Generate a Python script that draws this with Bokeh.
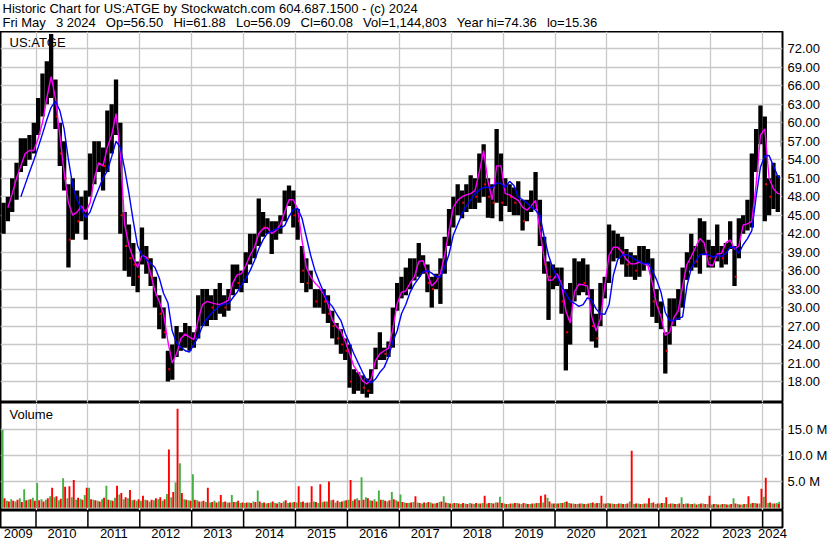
import numpy as np
import pandas as pd
from bokeh.plotting import figure
from bokeh.layouts import column
from bokeh.models import (Range1d, LinearAxis, FixedTicker, PrintfTickFormatter,
                          CustomJSTickFormatter, ColumnDataSource, Label)
from bokeh.core.properties import value
from bokeh.embed import file_html
from bokeh.resources import INLINE

# ---------------- texts ----------------
GAP = " \u2002"   # the header separates its fields with wide gaps
HEADER_1 = "Historic Chart for US:ATGE by Stockwatch.com 604.687.1500 - (c) 2024"
HEADER_2 = GAP.join(["Fri May", "3 2024", "Op=56.50", "Hi=61.88", "Lo=56.09", "Cl=60.08",
                     "Vol=1,144,803", "Year hi=74.36", "lo=15.36"])
SYMBOL = "US:ATGE"
VOLUME_TITLE = "Volume"

# ---------------- data (monthly, May 2009 .. Apr 2024, then May 3 2024) ----------------
FIRST_MONTH = "2009-05"
LAST_MONTH = "2024-04"
LAST_DAY = "2024-05-03"

HI = [47, 48, 51, 53.5, 57.5, 57.5, 58, 60,
      64, 68, 70, 74.4, 67, 60, 57, 50, 51, 49, 48, 49,
      55, 57, 57, 56, 62, 63, 67, 60, 45.5, 43.5, 40.5, 37.5,
      43, 40, 38, 35, 32, 30, 23, 24, 27, 26, 27.5, 27,
      26, 32, 33, 33, 32, 33, 34, 32, 33, 37, 37, 36,
      39, 42, 42, 47.7, 45.5, 44.5, 44, 44, 45, 49, 49.8, 49,
      46, 40, 38, 36, 33, 33, 33, 32, 29.5, 27.5, 26.5, 25,
      24, 20, 19.5, 19, 18.5, 20, 23.5, 26, 23.5, 24.5, 30, 34,
      35, 36.5, 38, 38, 40.5, 38.5, 37, 35, 35.5, 38, 41.5, 46,
      48, 50, 49, 50, 51.5, 51, 55, 56.5, 51, 50, 59, 55,
      51, 50, 49.5, 50.5, 47.5, 47.5, 49, 52, 47.5, 41.5, 37.5, 37,
      36.5, 36.5, 33, 34, 38, 37.5, 38, 37, 33, 29, 34, 35,
      43.5, 42.5, 42, 41.5, 39.5, 39, 38.5, 40, 40, 39.5, 38, 33,
      31, 26, 31.5, 31.5, 33, 36.5, 39, 42, 40, 44.5, 44, 41,
      40, 43.5, 40, 40.5, 44, 40, 44.5, 45, 47.5, 55, 59, 62.8,
      61, 51, 53.5, 51.5, 61.88]

LO = [42, 44, 45.5, 47.5, 52, 53, 54, 55,
      58, 61, 63, 64, 59, 53, 49, 36.5, 41, 42, 44, 41,
      48, 50, 52, 49, 52, 55, 58, 42, 36, 35, 33.5, 32.5,
      37, 35.5, 33.5, 30, 26.5, 25, 18, 18.3, 22, 23, 23.5, 23,
      23.5, 25, 27, 27, 28, 28, 29, 28.5, 29.5, 32, 33, 32.5,
      34, 37, 38, 40, 41.5, 42, 38.7, 41, 42, 44, 46.5, 43,
      41, 34, 32.5, 33, 30, 30, 29, 27.5, 25, 24, 22.5, 21.5,
      17, 16, 16.5, 16, 15.4, 16, 20, 21.5, 21.5, 22, 23.5, 29.5,
      31.5, 32, 33, 34.4, 35, 35.5, 32.5, 30, 33, 30.6, 35.5, 40,
      43, 45, 44.5, 45.5, 46, 46, 47, 48, 44.6, 44.5, 47, 44,
      46.5, 45.5, 45, 45, 42.5, 44, 45.5, 46, 40, 35.5, 28, 33,
      33.5, 29, 19.8, 24, 31, 32, 32.5, 32, 24.5, 23.5, 27, 31.5,
      34, 37.5, 38, 37, 35, 35, 34.5, 35, 36, 37, 28.5, 27.5,
      26.5, 19.3, 24, 27, 28, 30, 34.5, 36, 36.5, 35.5, 38.5, 36.5,
      36.5, 37.5, 36.5, 37, 39.5, 33.5, 38, 42, 42.5, 43, 52, 56.5,
      44, 45, 46, 45.5, 56.09]

CL = [45, 46, 49, 52, 55, 55.5, 56, 58.5,
      62, 66, 68, 68, 61, 55, 51, 41, 47, 44, 45.5, 47,
      52, 53, 54, 53, 56, 60, 63, 45, 40, 38, 37, 35,
      40, 38, 35, 32, 29, 26, 20, 22, 24, 24, 25, 25,
      25, 30, 30, 31, 30, 31, 31, 30, 31, 35, 34, 34,
      37, 40, 40, 44, 43, 43, 43, 43, 44, 47, 48, 45,
      44, 36, 34, 34, 31, 32, 31, 29, 27, 25, 24, 23,
      18, 18, 18, 17, 16.5, 18, 22, 23, 22.5, 23, 29, 31,
      33, 35, 35.5, 36, 38, 37, 34, 33, 34.5, 36, 40, 44,
      46, 48, 47, 48, 49, 48, 53, 50, 48, 47, 54, 47,
      49, 48, 47, 48, 44, 45.5, 47.5, 48, 43, 37, 35, 35,
      35, 31, 26, 31, 34, 34.5, 34, 35, 27, 25, 32, 34,
      40, 40, 39.5, 39, 37, 37.5, 36, 37, 38, 38, 31, 30,
      28, 23, 29, 29, 30, 34, 37, 39, 37.5, 40, 41, 38,
      38, 40, 38, 39, 42, 35, 43, 43, 44, 52, 57, 60,
      50, 48, 49, 49, 60.08]

MA_FAST = [np.nan, 46.2, 48.5, 51, 53, 55, 55.5, 55.5,
           57.5, 60, 64, 67.5, 64, 58, 52, 47, 45, 45.5, 46.5, 45.5,
           47, 51, 53.5, 53, 56, 58, 61.5, 55, 43.5, 40, 38, 36.5,
           38.5, 38.2, 35.5, 32.7, 31, 29, 24.5, 21, 22.5, 25, 25.7, 25.2,
           24.8, 28, 30.5, 31, 30.8, 30.6, 30.5, 30.8, 31.2, 34, 35.3, 35.5,
           36.8, 38.5, 39.8, 42, 42.8, 43, 42, 42.5, 43.5, 45.5, 47.5, 47.5,
           46, 41, 36.5, 35, 34, 33.3, 32.2, 30.6, 28, 26.9, 26.2, 24.5,
           22.5, 20.5, 19.5, 18.1, 17.6, 18.4, 21.4, 22.5, 23, 23.4, 26.5, 30.6,
           32.5, 32.7, 34, 35, 37.5, 37.6, 35.5, 33.5, 34.2, 35.5, 38.5, 42.5,
           46.3, 47.4, 48, 48.3, 48.5, 49, 52, 55.5, 50.5, 47.5, 53, 53,
           48.5, 48.3, 47.8, 47.4, 46.3, 45.8, 46.5, 47.4, 42.5, 38, 34.4, 34.5,
           35.5, 33.8, 29.5, 27.5, 32.5, 33.8, 33.7, 33.5, 28.5, 26.2, 28.2, 33.5,
           38.5, 39.8, 39.8, 39, 37.8, 37.1, 37.1, 37.4, 37.1, 36.8, 34, 30.5,
           28.5, 25.5, 26, 28.4, 29.5, 33.5, 37, 38.3, 39.8, 41.2, 40.5, 37,
           36.8, 38.7, 38.8, 40.5, 41, 39.5, 40, 43.4, 43.6, 44, 50, 58,
           59, 51, 49.3, 48.5, 48.5]

MA_SLOW = [np.nan, np.nan, np.nan, np.nan, 48, 50, 52, 53.9,
           56, 58.2, 60.5, 62.5, 63.5, 62, 59, 54, 49.8, 47.5, 46, 44.6,
           45.5, 47.5, 49.3, 51, 52.2, 54.5, 57, 56, 52.5, 48.5, 44, 40,
           38.5, 37.8, 37.2, 36.5, 34.8, 32.3, 30.8, 26.2, 24.3, 23.6, 23, 22.8,
           24, 25.3, 27, 28.2, 29, 29.7, 30.3, 30.6, 30.6, 31.6, 32.5, 33.6,
           34.7, 36, 37.6, 39.5, 41, 42.1, 42.4, 42.7, 42.9, 43.3, 44.8, 45.9,
           46.1, 44.5, 41.5, 38.5, 36, 34.2, 32.5, 31, 30.2, 29, 27.9, 25.8,
           24.2, 22.5, 21, 19.5, 18.2, 17.8, 18.4, 19.5, 20.3, 22, 24.5, 26.2,
           29, 30.5, 32.5, 33.8, 34.8, 35.8, 36, 35.6, 35, 35, 36.5, 38.7,
           41.8, 43.5, 45.2, 46.5, 47.5, 48.5, 49.1, 49.5, 49.5, 49.5, 50.2, 50.2,
           49.5, 50.5, 49.8, 48, 47.5, 47, 46.3, 45.8, 45, 41.5, 38.5, 36.4,
           34.9, 33.5, 32.3, 31.1, 30.7, 30.2, 30.5, 31.6, 31.2, 29.8, 29, 28.9,
           30.5, 35.3, 37.8, 38.5, 38.6, 38.3, 37.8, 37.5, 37.1, 37.2, 36, 34.5,
           32.5, 29.2, 27.9, 27.9, 28.2, 28.5, 33.5, 36.4, 37.6, 38.6, 38.7, 38.6,
           38.2, 38.5, 38.3, 38.8, 39.8, 39.8, 38.8, 40.2, 41.2, 42.5, 48, 52.8,
           54.6, 54.7, 53, 51.3, 51]

# volume, millions of shares: largest up-day and largest down-day of each month
VOL_UP = [14.9, 1.3, 1.6, 1.2, 1.8, 3.5, 1.5, 1.9,
          4.7, 1.6, 1.5, 2.2, 2.0, 1.4, 5.6, 1.8, 2.0, 1.5, 1.7, 2.4,
          3.8, 1.5, 1.3, 1.6, 4.2, 1.4, 1.9, 2.5, 1.6, 1.8, 1.4, 1.3,
          1.3, 1.5, 1.2, 1.4, 1.6, 1.3, 2.6, 2.0, 4.8, 8.5, 1.6, 1.4,
          6.4, 1.4, 1.2, 1.1, 1.0, 1.3, 1.2, 1.1, 1.0, 2.4, 1.1, 0.9,
          0.9, 1.0, 1.2, 3.3, 0.9, 0.8, 1.0, 0.9, 1.1, 1.2, 0.9, 1.0,
          1.0, 1.1, 0.9, 1.0, 1.2, 0.9, 1.1, 1.2, 1.4, 1.0, 1.1, 1.3,
          1.5, 1.3, 1.8, 5.8, 2.0, 1.4, 1.6, 3.3, 1.5, 1.2, 3.0, 1.4,
          2.5, 1.0, 0.9, 1.1, 1.0, 0.8, 0.9, 1.0, 0.8, 1.1, 2.2, 0.9,
          0.8, 0.9, 0.7, 0.8, 0.9, 0.7, 0.8, 0.9, 0.8, 0.9, 1.0, 2.1,
          0.8, 0.7, 0.8, 0.9, 0.7, 0.8, 0.7, 0.8, 0.9, 1.0, 1.9, 0.8,
          0.8, 0.9, 1.1, 0.9, 0.8, 0.7, 0.8, 0.7, 0.9, 0.8, 0.9, 0.8,
          0.9, 0.8, 0.7, 0.8, 0.7, 1.2, 0.7, 0.8, 0.7, 0.8, 0.9, 0.7,
          0.8, 0.9, 0.7, 0.8, 0.7, 2.0, 0.8, 0.7, 0.8, 0.7, 0.8, 0.7,
          0.6, 0.7, 0.6, 0.7, 0.6, 1.8, 0.7, 0.6, 0.7, 0.8, 0.9, 0.8,
          2.1, 0.9, 0.8, 0.9, 1.14]

VOL_DN = [1.8, 1.2, 1.3, 1.5, 1.1, 1.4, 1.6, 1.3,
          1.4, 1.2, 1.8, 3.8, 2.2, 1.7, 4.0, 4.1, 5.3, 1.9, 1.5, 3.8,
          1.6, 1.4, 1.2, 1.9, 1.5, 1.3, 4.2, 2.8, 2.0, 3.4, 1.5, 1.6,
          2.3, 1.4, 1.5, 1.8, 2.0, 1.6, 11.1, 3.0, 18.9, 2.8, 1.5, 1.3,
          1.5, 1.2, 1.3, 3.8, 1.1, 1.0, 2.4, 1.2, 1.0, 1.1, 1.3, 1.0,
          1.0, 0.9, 1.1, 1.2, 1.0, 0.9, 1.2, 0.8, 0.9, 1.4, 1.0, 1.1,
          4.1, 1.2, 1.0, 4.1, 1.1, 4.5, 1.2, 5.0, 1.5, 1.3, 1.2, 1.4,
          5.3, 1.6, 1.4, 1.5, 1.8, 1.3, 1.2, 1.5, 1.3, 1.4, 1.6, 1.2,
          1.1, 0.9, 1.0, 2.2, 0.9, 1.0, 1.1, 0.8, 0.9, 1.2, 1.0, 0.8,
          0.9, 0.8, 0.9, 0.7, 0.8, 0.9, 0.8, 2.3, 0.9, 0.8, 1.0, 0.9,
          0.7, 0.8, 0.9, 0.8, 0.9, 0.7, 0.8, 0.9, 2.3, 2.5, 1.2, 0.8,
          0.8, 0.9, 1.2, 0.8, 0.7, 0.8, 0.7, 0.8, 1.0, 0.9, 2.3, 0.8,
          0.8, 0.7, 0.8, 0.7, 0.8, 10.9, 0.8, 0.7, 0.8, 1.8, 1.0, 0.8,
          0.9, 2.0, 0.8, 0.7, 0.8, 0.7, 0.8, 0.7, 0.6, 0.8, 0.7, 2.3,
          0.7, 0.6, 0.7, 0.6, 0.7, 0.8, 0.6, 0.7, 2.2, 0.9, 0.8, 3.6,
          5.7, 1.0, 0.8, 0.7, 0.0]

PRICE_TICKS = [18, 21, 24, 27, 30, 33, 36, 39, 42, 45, 48, 51, 54, 57, 60, 63, 66, 69, 72]
VOL_TICKS = [5, 10, 15]
YEARS = list(range(2009, 2025))

# ---------------- layout constants (pixels) ----------------
FONT = "Liberation Sans"
W = 830
FRAME_W = 782
RIGHT = W - FRAME_W
H_HEAD, H_PRICE, H_VOL, H_TICKROW, H_LABELROW = 31, 371, 108, 17, 16
X_RANGE = (2009.316, 2024.383)
GRID = "#c8c8c8"

# ---------------- positions ----------------
periods = pd.period_range(FIRST_MONTH, LAST_MONTH, freq="M")
t_month = [p.year + (p.month - 1) / 12 + 0.5 / 12 for p in periods]
ld = pd.Timestamp(LAST_DAY)
t_last = ld.year + (ld.dayofyear - 0.5) / 366
t = np.array(t_month + [t_last])
bar_w = np.array([1.0 / 12] * len(t_month) + [2.0 / 366])
n = len(t)
assert len(HI) == n and len(LO) == n and len(CL) == n
assert len(MA_FAST) == n and len(MA_SLOW) == n and len(VOL_UP) == n and len(VOL_DN) == n

cl = np.array(CL, dtype=float)
down = np.zeros(n, dtype=bool)
down[1:] = cl[1:] < cl[:-1]

src = ColumnDataSource(dict(t=t, hi=HI, lo=LO, cl=CL, w=bar_w,
                            fast=MA_FAST, slow=MA_SLOW))
dsrc = ColumnDataSource(dict(t=t[down] + 0.3 / 12, cl=cl[down]))

xr = Range1d(*X_RANGE)


def base_fig(frame_w, frame_h, y_range, x_range, right=0, bottom=0):
    f = figure(frame_width=frame_w, frame_height=frame_h, x_range=x_range,
               y_range=y_range, output_backend="svg", toolbar_location=None,
               title=None, x_axis_location=None, y_axis_location=None,
               min_border=0, min_border_left=0, min_border_top=0,
               min_border_right=right, min_border_bottom=bottom,
               background_fill_color="white", border_fill_color="white")
    f.outline_line_color = "black"
    f.outline_line_width = 2
    return f


def style_axis(ax):
    ax.axis_line_color = None
    ax.major_tick_line_color = None
    ax.minor_tick_line_color = None
    ax.major_tick_out = 0
    ax.major_tick_in = 0
    ax.major_label_standoff = 5
    ax.major_label_text_font = FONT
    ax.major_label_text_font_size = "13px"
    ax.major_label_text_color = "black"


# ---------------- header ----------------
h = base_fig(W, H_HEAD, Range1d(H_HEAD, 0), Range1d(0, W))
h.grid.visible = False
h.outline_line_color = None
h.text(x=[2, 2], y=[0.3, 14.8], text=[HEADER_1, HEADER_2],
       text_font=value(FONT), text_font_size="13px", text_color="black",
       text_baseline="top", text_align="left")

# ---------------- price panel ----------------
p = base_fig(FRAME_W, H_PRICE, Range1d(14.6, 74.81), xr, right=RIGHT)
p.xgrid.ticker = FixedTicker(ticks=YEARS[1:])
p.ygrid.ticker = FixedTicker(ticks=PRICE_TICKS)
for g in (p.xgrid, p.ygrid):
    g.grid_line_color = GRID
    g.grid_line_width = 1.3

p.vbar(x="t", width="w", top="hi", bottom="lo", source=src,
       fill_color="black", line_color=None)
p.rect(x="t", y="cl", width=2, height=2, width_units="screen", height_units="screen",
       source=dsrc, fill_color="red", line_color=None)
p.line(x="t", y="fast", source=src, line_color="#ff00ff", line_width=1.4)
p.line(x="t", y="slow", source=src, line_color="#0000ff", line_width=1.4)

pax = LinearAxis(ticker=FixedTicker(ticks=PRICE_TICKS),
                 formatter=PrintfTickFormatter(format="%.2f"))
style_axis(pax)
p.add_layout(pax, "right")
p.add_layout(Label(x=9, y=H_PRICE - 3.8, x_units="screen", y_units="screen",
                   text=SYMBOL, text_font=FONT, text_font_size="13px",
                   text_baseline="top", text_color="black"))

# ---------------- volume panel ----------------
v = base_fig(FRAME_W, H_VOL, Range1d(-0.54, 20.1), xr, right=RIGHT)
v.xgrid.ticker = FixedTicker(ticks=YEARS[1:])
v.ygrid.ticker = FixedTicker(ticks=VOL_TICKS)
for g in (v.xgrid, v.ygrid):
    g.grid_line_color = GRID
    g.grid_line_width = 1.3
off = 0.23 / 12
v.vbar(x=t - off, width=0.44 / 12, top=VOL_UP, bottom=0,
       fill_color="#44b044", line_color=None)
v.vbar(x=t + off, width=0.44 / 12, top=VOL_DN, bottom=0,
       fill_color="#ff0000", line_color=None)
vax = LinearAxis(ticker=FixedTicker(ticks=VOL_TICKS),
                 formatter=PrintfTickFormatter(format="%.1f M"))
style_axis(vax)
v.add_layout(vax, "right")
v.add_layout(Label(x=9, y=H_VOL - 4.8, x_units="screen", y_units="screen",
                   text=VOLUME_TITLE, text_font=FONT, text_font_size="13px",
                   text_baseline="top", text_color="black"))

# ---------------- year strip: tick row (frame) + year labels (axis below) ----------------
s = base_fig(FRAME_W, H_TICKROW, Range1d(0, 1), xr, right=RIGHT, bottom=H_LABELROW)
s.grid.visible = False
s.segment(x0=YEARS[1:], y0=0, x1=YEARS[1:], y1=1, line_color="black", line_width=1.5)
label_x = []
for yr in YEARS:
    a = max(yr, X_RANGE[0])
    b = min(yr + 1, X_RANGE[1])
    label_x.append((a + b) / 2)
yax = LinearAxis(ticker=FixedTicker(ticks=label_x),
                 formatter=CustomJSTickFormatter(code="return String(Math.floor(tick));"))
style_axis(yax)
yax.major_label_standoff = 1
s.add_layout(yax, "below")

layout = column(h, p, v, s, spacing=0)
open("out.html", "w").write(file_html(layout, INLINE))
